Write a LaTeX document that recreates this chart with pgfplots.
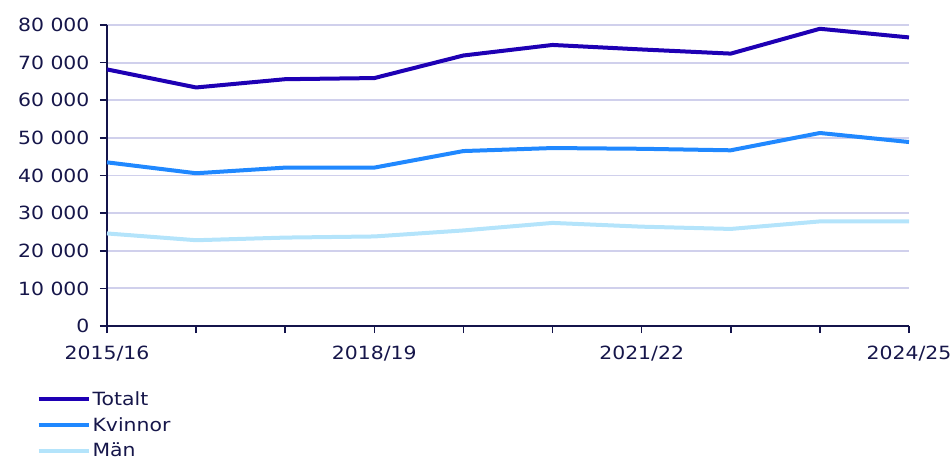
\documentclass[border=0pt]{standalone}
\usepackage{fontspec}
\setmainfont[FakeStretch=1.12]{DejaVu Sans}
\usepackage{pgfplots}
\pgfplotsset{compat=1.18}
\definecolor{txt}{HTML}{16164A}
\definecolor{axl}{HTML}{14144B}
\definecolor{gridc}{HTML}{D0D0EC}
\definecolor{ctot}{HTML}{1E00B4}
\definecolor{ckv}{HTML}{2088FF}
\definecolor{cman}{HTML}{B4E4FB}
\begin{document}
\begin{tikzpicture}
\begin{axis}[
  at={(0pt,0pt)}, anchor=south west,
  scale only axis, width=802pt, height=301pt,
  xmin=0, xmax=9, ymin=0, ymax=80000,
  xtick={0,...,9},
  xticklabels={2015/16,,,2018/19,,,2021/22,,,2024/25},
  ytick distance=10000,
  axis x line*=bottom, axis y line*=left,
  axis line style={axl, line width=1.6pt, -},
  every tick/.style={axl, line width=1.6pt},
  tick align=outside, major tick length=7pt,
  ymajorgrids, grid style={gridc, line width=1.8pt},
  tick label style={font=\fontsize{18.2}{21}\selectfont, text=txt},
  yticklabel shift=7pt, xticklabel shift=9pt,
  scaled y ticks=false,
  /pgf/number format/.cd, 1000 sep={\ }, assume math mode=true, /pgfplots/.cd,
  legend style={at={(axis description cs:-0.088,-0.21)}, anchor=north west,
    draw=none, fill=none, inner sep=0pt, row sep=6.5pt, column sep=0pt,
    font=\fontsize{18.2}{21}\selectfont, text=txt},
  legend cell align=left,
  legend image code/.code={\draw[#1, line width=4pt] (0pt,0pt) -- (50pt,0pt);},
  every axis plot/.append style={line width=4pt, line join=round, mark=none},
]
\addplot[ctot] coordinates {(0,68200) (1,63400) (2,65600) (3,65900) (4,71900) (5,74700) (6,73500) (7,72400) (8,79000) (9,76700)};
\addlegendentry{Totalt}
\addplot[ckv] coordinates {(0,43500) (1,40600) (2,42100) (3,42100) (4,46500) (5,47300) (6,47100) (7,46700) (8,51300) (9,48900)};
\addlegendentry{Kvinnor}
\addplot[cman] coordinates {(0,24600) (1,22800) (2,23500) (3,23800) (4,25400) (5,27400) (6,26400) (7,25800) (8,27800) (9,27800)};
\addlegendentry{Män}
\end{axis}
\pgfresetboundingbox
\useasboundingbox (-107pt,-135pt) rectangle (845pt,326pt);
\end{tikzpicture}
\end{document}
